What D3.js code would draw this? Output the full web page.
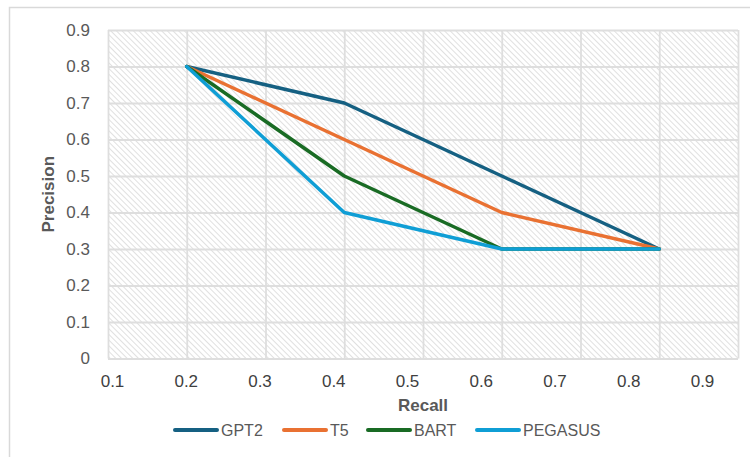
<!DOCTYPE html>
<html>
<head>
<meta charset="utf-8">
<script src="https://cdn.jsdelivr.net/npm/d3@7"></script>
<style>
  body { margin: 0; background: #fff; }
  text { font-family: "Liberation Sans", Arial, sans-serif; }
</style>
</head>
<body>
<div id="chart"></div>
<script>
var svgWidth = 750;
var svgHeight = 457;

// data
var recall = [0.2, 0.4, 0.6, 0.8];
var gpt2 = [0.8, 0.7, 0.5, 0.3];
var t5 = [0.8, 0.6, 0.4, 0.3];
var bart = [0.8, 0.5, 0.3, 0.3];
var pegasus = [0.8, 0.4, 0.3, 0.3];
var seriesNames = ["GPT2", "T5", "BART", "PEGASUS"];
var xTicks = [0.1, 0.2, 0.3, 0.4, 0.5, 0.6, 0.7, 0.8, 0.9];
var yTicks = [0, 0.1, 0.2, 0.3, 0.4, 0.5, 0.6, 0.7, 0.8, 0.9];

var colors = ["#156082", "#e97132", "#196b24", "#0f9ed5"];
var allSeries = [gpt2, t5, bart, pegasus];

var plot = { left: 108, right: 738, top: 30, bottom: 358.5 };

var svg = d3.select("#chart")
  .append("svg")
  .attr("width", svgWidth)
  .attr("height", svgHeight);

// hatch pattern for plot background
var defs = svg.append("defs");
var pat = defs.append("pattern")
  .attr("id", "hatch")
  .attr("patternUnits", "userSpaceOnUse")
  .attr("width", 4)
  .attr("height", 4)
  .attr("patternTransform", "rotate(-45)");
pat.append("rect").attr("width", 4).attr("height", 4).attr("fill", "#fff");
pat.append("line")
  .attr("x1", 0).attr("y1", 0).attr("x2", 0).attr("y2", 4)
  .attr("stroke", "#cfcfcf")
  .attr("stroke-width", 1.3);

// outer frame
svg.append("rect")
  .attr("x", 9.5).attr("y", 7.5)
  .attr("width", 760).attr("height", 470)
  .attr("fill", "none")
  .attr("stroke", "#d9d9d9")
  .attr("stroke-width", 1.5);

var x = d3.scaleLinear().domain([0.1, 0.9]).range([plot.left, plot.right]);
var y = d3.scaleLinear().domain([0, 0.9]).range([plot.bottom, plot.top]);
// the tick labels sit a little off the gridlines in the original
var xLabel = d3.scaleLinear().domain([0.1, 0.9]).range([112, 702]);

svg.append("rect")
  .attr("x", plot.left).attr("y", plot.top)
  .attr("width", plot.right - plot.left)
  .attr("height", plot.bottom - plot.top)
  .attr("fill", "url(#hatch)");

// gridlines
svg.append("g")
  .attr("transform", `translate(0, ${plot.bottom})`)
  .call(d3.axisBottom(x).tickValues(xTicks).tickSize(-(plot.bottom - plot.top)).tickFormat(""))
  .call(g => g.select(".domain").remove())
  .selectAll("line").attr("stroke", "#dedede").attr("stroke-width", 1.8);

svg.append("g")
  .attr("transform", `translate(${plot.left}, 0)`)
  .call(d3.axisLeft(y).tickValues(yTicks).tickSize(-(plot.right - plot.left)).tickFormat(""))
  .call(g => g.select(".domain").remove())
  .selectAll("line").attr("stroke", "#dedede").attr("stroke-width", 1.8);

// tick labels
var xAxis = svg.append("g")
  .attr("transform", `translate(0, 372)`)
  .call(d3.axisBottom(xLabel).tickValues(xTicks).tickSize(0).tickFormat(d3.format(".1f")));
xAxis.select(".domain").remove();
xAxis.selectAll("text")
  .attr("font-size", 17)
  .attr("fill", "#404040")
  .style("font-family", "'Liberation Sans', Arial, sans-serif");

var yAxis = svg.append("g")
  .attr("transform", `translate(93, 0)`)
  .call(d3.axisLeft(y).tickValues(yTicks).tickSize(0).tickFormat(d => d === 0 ? "0" : d3.format(".1f")(d)));
yAxis.select(".domain").remove();
yAxis.selectAll("text")
  .attr("font-size", 17)
  .attr("fill", "#595959")
  .style("font-family", "'Liberation Sans', Arial, sans-serif");

// axis titles
svg.append("text")
  .attr("x", 423).attr("y", 411)
  .attr("text-anchor", "middle")
  .attr("font-size", 17)
  .attr("font-weight", "bold")
  .attr("fill", "#595959")
  .text("Recall");

svg.append("text")
  .attr("transform", `translate(54, ${(plot.top + plot.bottom) / 2}) rotate(-90)`)
  .attr("text-anchor", "middle")
  .attr("font-size", 17)
  .attr("font-weight", "bold")
  .attr("fill", "#595959")
  .text("Precision");

// lines
var line = d3.line()
  .x((d, i) => x(recall[i]))
  .y(d => y(d));

allSeries.forEach(function (s, i) {
  svg.append("path")
    .datum(s)
    .attr("d", line)
    .attr("fill", "none")
    .attr("stroke", colors[i])
    .attr("stroke-width", 3.5)
    .attr("stroke-linejoin", "round")
    .attr("stroke-linecap", "round");
});

// legend
var legendX = [175, 284, 368, 477];
var legend = svg.append("g");
seriesNames.forEach(function (name, i) {
  legend.append("line")
    .attr("x1", legendX[i]).attr("x2", legendX[i] + 42)
    .attr("y1", 430).attr("y2", 430)
    .attr("stroke", colors[i])
    .attr("stroke-width", 4)
    .attr("stroke-linecap", "round");
  legend.append("text")
    .attr("x", legendX[i] + 46)
    .attr("y", 436)
    .attr("font-size", 16)
    .attr("fill", "#595959")
    .text(name);
});
</script>
</body>
</html>
